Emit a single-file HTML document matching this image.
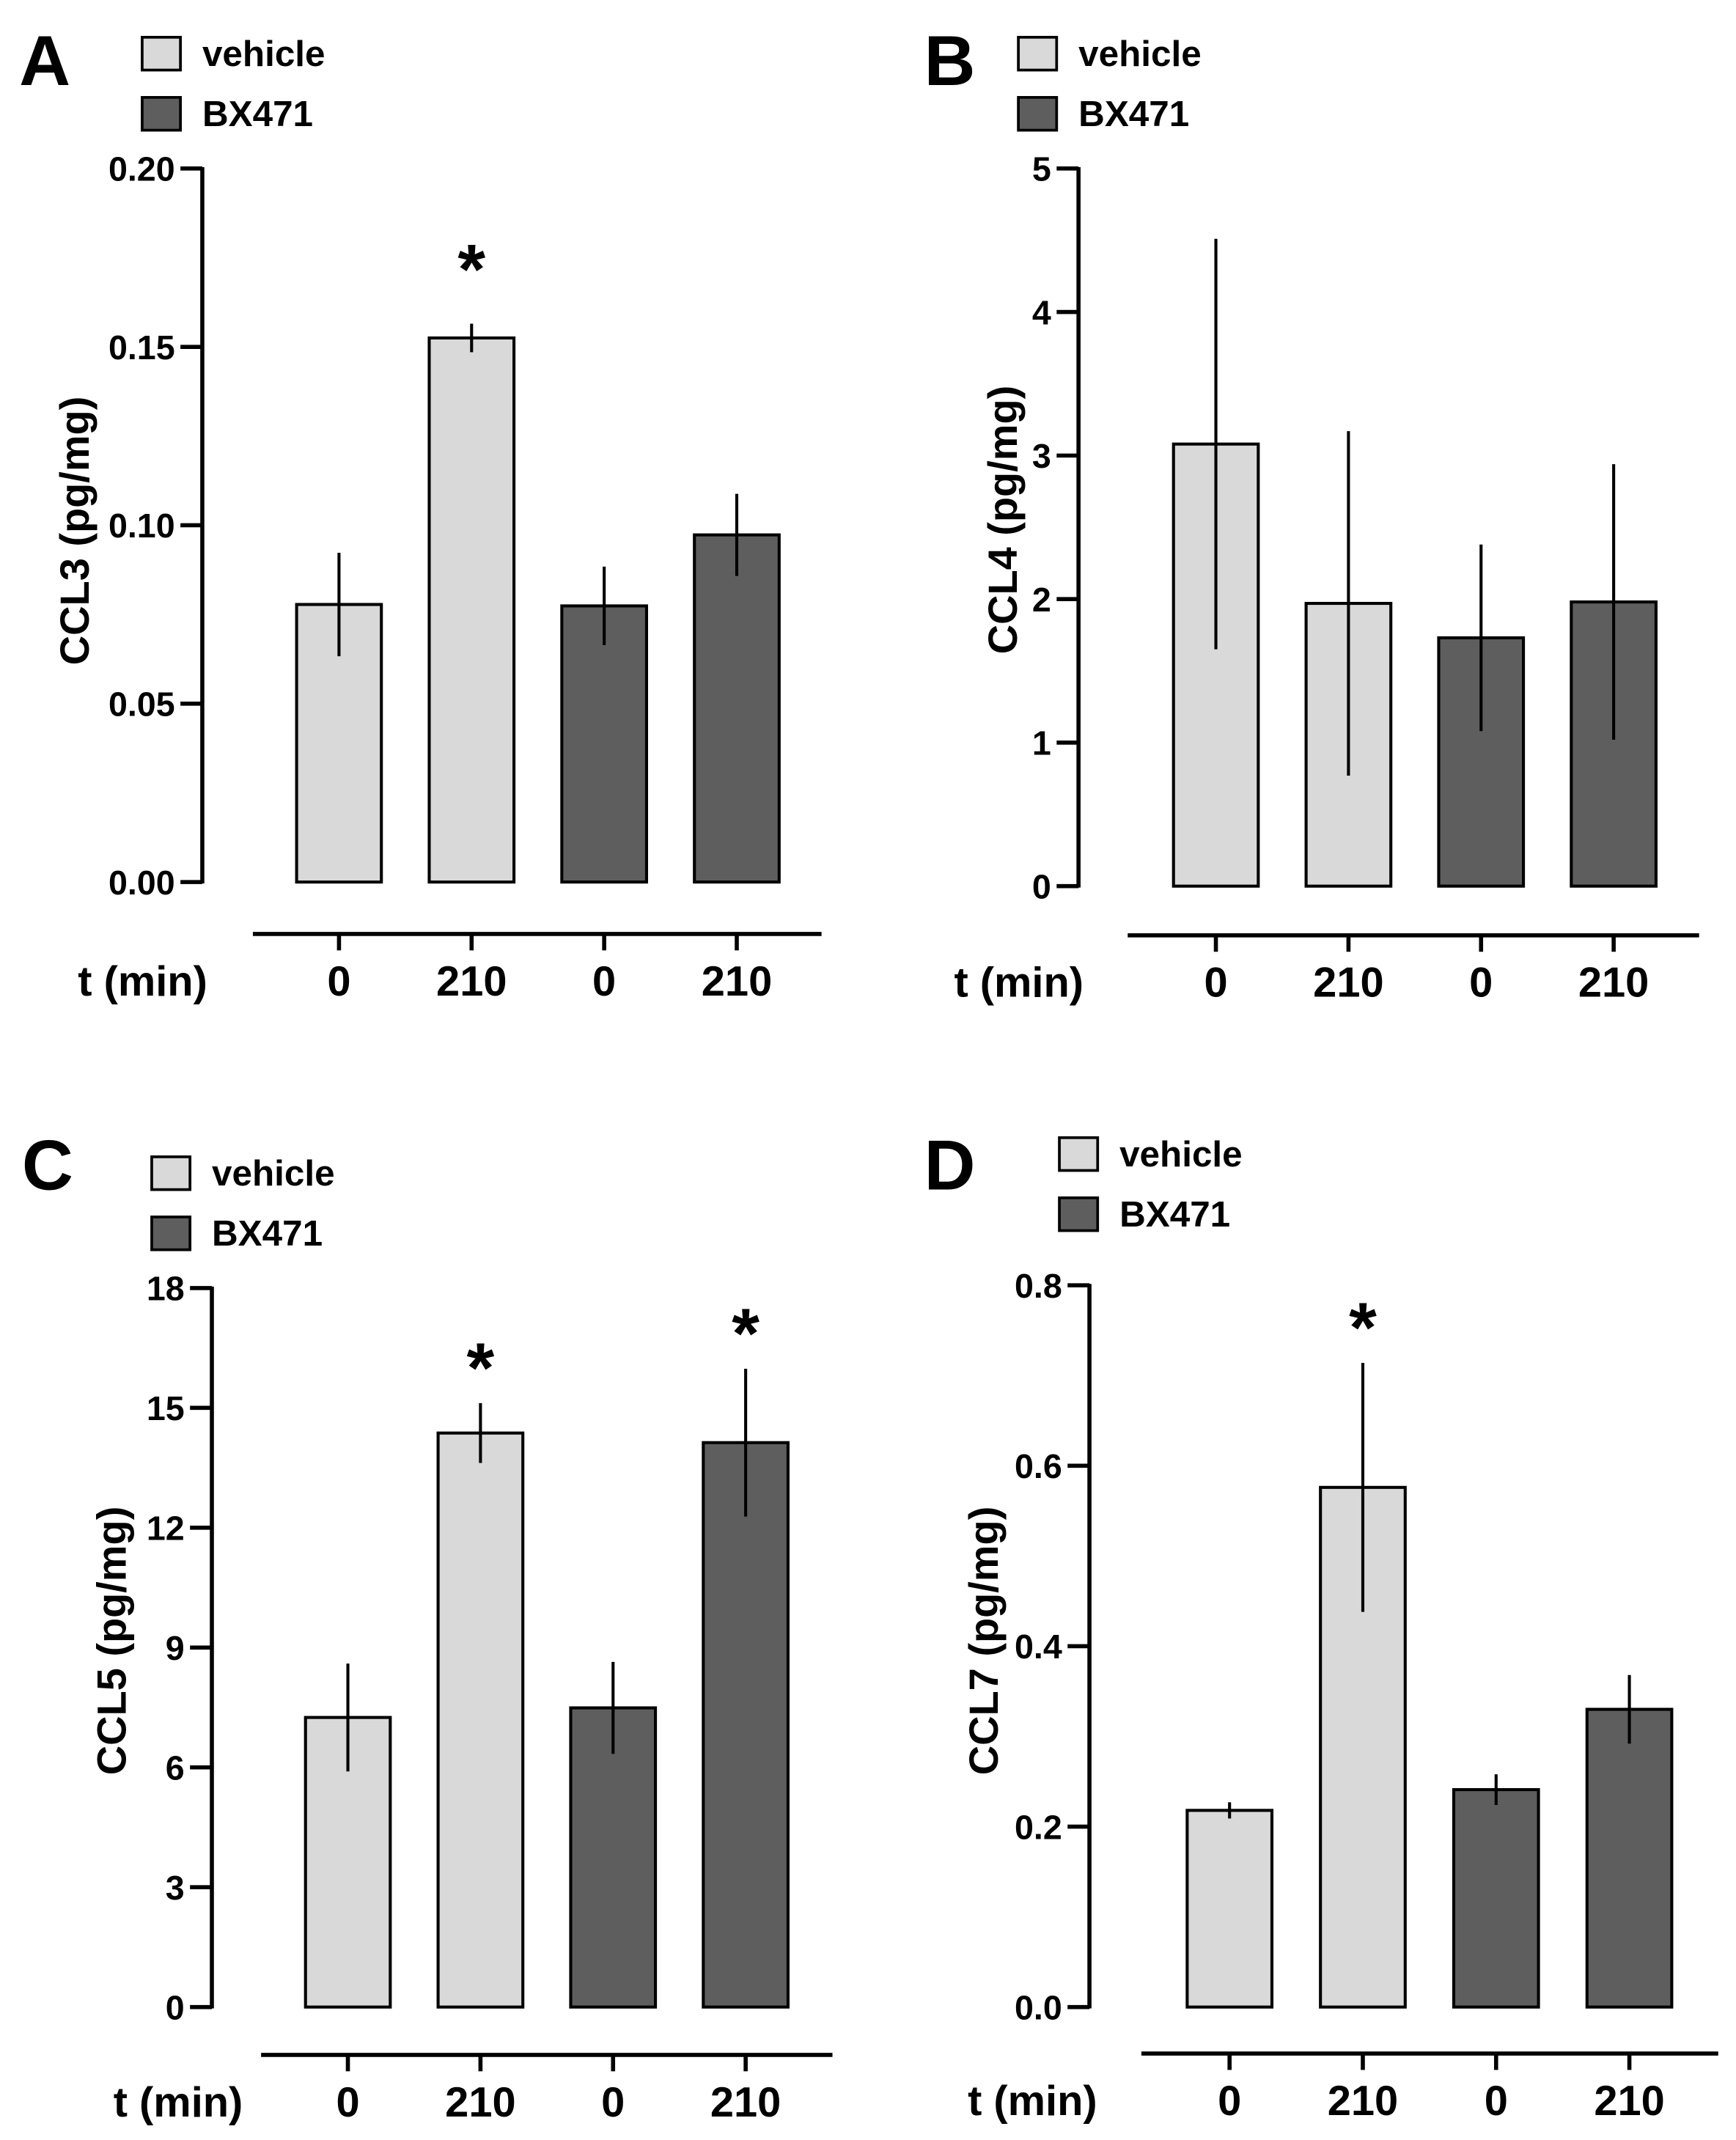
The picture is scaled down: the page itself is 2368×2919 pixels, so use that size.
<!DOCTYPE html>
<html><head><meta charset="utf-8"><style>
html,body{margin:0;padding:0;background:#fff}
svg{display:block}
text{font-family:"Liberation Sans",Arial,sans-serif;font-weight:bold;fill:#000}
</style></head><body>
<svg id="fig" width="2368" height="2919" viewBox="0 0 1270 1565" xmlns="http://www.w3.org/2000/svg"></svg>
<script>
const categories = ["0","210","0","210"];
const groups = ["vehicle","vehicle","BX471","BX471"];
const ccl3Values = [0.0778,0.1525,0.0774,0.0973];
const ccl3Err = [0.0145,0.004,0.011,0.0115];
const ccl4Values = [3.08,1.97,1.73,1.98];
const ccl4Err = [1.43,1.2,0.65,0.96];
const ccl5Values = [7.25,14.37,7.49,14.13];
const ccl5Err = [1.35,0.75,1.15,1.85];
const ccl7Values = [0.218,0.576,0.241,0.330];
const ccl7Err = [0.009,0.138,0.017,0.038];
const ccl3Ticks = ["0.00","0.05","0.10","0.15","0.20"];
const ccl4Ticks = ["0","1","2","3","4","5"];
const ccl5Ticks = ["0","3","6","9","12","15","18"];
const ccl7Ticks = ["0.0","0.2","0.4","0.6","0.8"];
const ccl3Sig = [false,true,false,false];
const ccl4Sig = [false,false,false,false];
const ccl5Sig = [false,true,false,true];
const ccl7Sig = [false,true,false,false];

const NS="http://www.w3.org/2000/svg";
const svg=document.getElementById('fig');
function mk(tag,attrs,parent){const e=document.createElementNS(NS,tag);for(const k in attrs)e.setAttribute(k,attrs[k]);(parent||svg).appendChild(e);return e;}
function txt(s,attrs,parent){const e=mk('text',attrs,parent);e.textContent=s;return e;}
const colors={vehicle:"#d9d9d9",BX471:"#5e5e5e"};

function drawPanel(p){
  const g=mk('g',{});
  
  
  const L=txt(p.letter,{x:p.letterX,y:p.letterY,'font-size':52,'font-family':'"DejaVu Sans","Liberation Sans",sans-serif'},g);
  
  
  ["vehicle","BX471"].forEach((n,i)=>{
    const r=mk('rect',{x:p.legX,y:p.legY+i*44,width:28,height:24,fill:colors[n],stroke:'#000','stroke-width':2},g);
    
    
    const t=txt(n,{x:p.legX+44,y:p.legY+i*44+21,'font-size':26.5},g);
    
    
  });
  const maxV=parseFloat(p.ticks[p.ticks.length-1]);
  const y=v=>p.y0-(v/maxV)*(p.y0-p.yTop);
  const xc=i=>p.bar0+i*p.step;
  const ax=mk('line',{x1:p.axX,y1:p.yTop-1,x2:p.axX,y2:p.y0+1,stroke:'#000','stroke-width':3},g);
  
  
  p.ticks.forEach(tk=>{
    const v=parseFloat(tk);
    mk('line',{x1:p.axX-16,y1:y(v),x2:p.axX,y2:y(v),stroke:'#000','stroke-width':3},g);
    const t=txt(tk,{x:p.axX-20,y:y(v)+9,'font-size':25,'text-anchor':'end'},g);
    
    
  });
  const yt=txt(p.title,{x:0,y:0,'font-size':30,'text-anchor':'middle',transform:`translate(${p.titleX},${p.titleY}) rotate(-90)`},g);
  
  
  p.values.forEach((v,i)=>{
    const c=xc(i);
    const r=mk('rect',{x:c-31,y:y(v),width:62,height:p.y0-y(v),fill:colors[groups[i]],stroke:'#000','stroke-width':2.2},g);
    
    
    const e=mk('line',{x1:c,y1:y(v+p.err[i]),x2:c,y2:y(v-p.err[i]),stroke:'#000','stroke-width':2.2},g);
    
    
    if(p.sig[i]){
      const s=txt('*',{x:c,y:y(v+p.err[i])-p.sigGap,'font-size':52,'text-anchor':'middle'},g);
      
      
    }
  });
  const xa=mk('line',{x1:p.xlX1,y1:p.xlY,x2:p.xlX2,y2:p.xlY,stroke:'#000','stroke-width':3},g);
  
  
  categories.forEach((c,i)=>{
    mk('line',{x1:xc(i),y1:p.xlY,x2:xc(i),y2:p.xlY+12,stroke:'#000','stroke-width':3},g);
    const t=txt(c,{x:xc(i),y:p.xlY+45,'font-size':31,'text-anchor':'middle'},g);
    
    
  });
  const xt=txt('t (min)',{x:p.tX,y:p.xlY+45,'font-size':31},g);
  
  
}

drawPanel({letter:'A',letterX:14,letterY:62,legX:104,legY:27,axX:148,yTop:123,y0:645,bar0:248,step:97,
  ticks:ccl3Ticks,values:ccl3Values,err:ccl3Err,sig:ccl3Sig,sigGap:22,title:'CCL3 (pg/mg)',titleX:65,titleY:388,
  xlX1:185,xlX2:601,xlY:683,tX:57});
drawPanel({letter:'B',letterX:676,letterY:62,legX:745,legY:27,axX:789,yTop:123,y0:648,bar0:889.5,step:97,
  ticks:ccl4Ticks,values:ccl4Values,err:ccl4Err,sig:ccl4Sig,sigGap:10,title:'CCL4 (pg/mg)',titleX:744,titleY:380,
  xlX1:825,xlX2:1243,xlY:684,tX:698});
drawPanel({letter:'C',letterX:16,letterY:870,legX:111,legY:846,axX:155,yTop:942,y0:1468,bar0:254.5,step:97,
  ticks:ccl5Ticks,values:ccl5Values,err:ccl5Err,sig:ccl5Sig,sigGap:8,title:'CCL5 (pg/mg)',titleX:92,titleY:1200,
  xlX1:191,xlX2:609,xlY:1503,tX:83});
drawPanel({letter:'D',letterX:676,letterY:870,legX:775,legY:832,axX:797,yTop:940,y0:1468,bar0:899.5,step:97.5,
  ticks:ccl7Ticks,values:ccl7Values,err:ccl7Err,sig:ccl7Sig,sigGap:8,title:'CCL7 (pg/mg)',titleX:730,titleY:1200,
  xlX1:835,xlX2:1257,xlY:1502,tX:708});
</script>
</body></html>
